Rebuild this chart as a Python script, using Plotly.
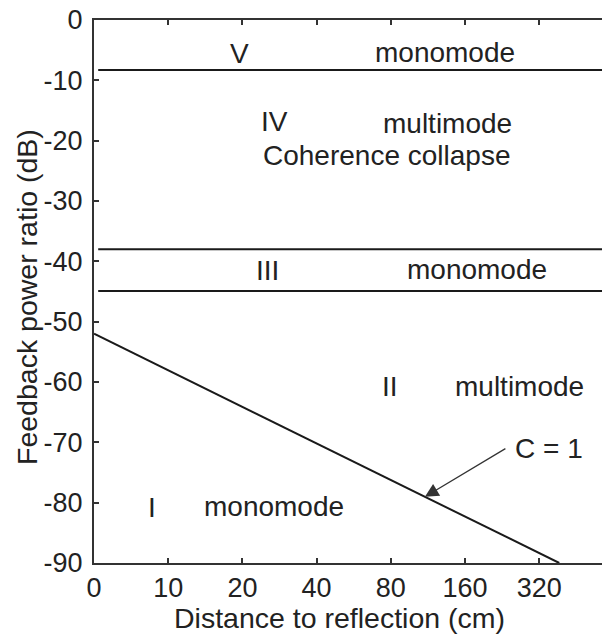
import plotly.graph_objects as go
import numpy as np

# ---- data ----
tick_vals = [5, 10, 20, 40, 80, 160, 320]
tick_text = ["0", "10", "20", "40", "80", "160", "320"]
y_ticks = [0, -10, -20, -30, -40, -50, -60, -70, -80, -90]
y_tick_text = ["0", "-10", "-20", "-30", "-40", "-50", "-60", "-70", "-80", "-90"]

boundary_levels = [-8.3, -38.0, -44.9]      # dB, regime boundaries
boundary_x = [5.2, 700]                     # cm, horizontal extent

c1_x = [5, 386]                             # C = 1 line (cm)
c1_y = [-52, -90]                           # dB

W, H = 602, 635
L, R, T, B = 94, 0, 20, 72
x_lo, x_hi = np.log10(5), np.log10(5 * 2 ** ((W - L) / 74.2))

font = "Liberation Sans, Arial, sans-serif"
tcol = "#222222"

fig = go.Figure()
for lv in boundary_levels:
    fig.add_trace(go.Scatter(x=boundary_x, y=[lv, lv], mode="lines",
                             line=dict(color="#1a1a1a", width=2), showlegend=False,
                             hoverinfo="skip"))
fig.add_trace(go.Scatter(x=c1_x, y=c1_y, mode="lines",
                         line=dict(color="#1a1a1a", width=2), showlegend=False,
                         hoverinfo="skip"))

pw, ph = W - L - R, H - T - B


def px(xp, yp):
    return (xp - L) / pw, (H - B - yp) / ph


labels = [
    ("V", 239, 54), ("monomode", 445, 53),
    ("IV", 274, 122), ("multimode", 447, 124), ("Coherence collapse", 387, 155),
    ("III", 267, 270), ("monomode", 477, 269),
    ("II", 390, 386), ("multimode", 519, 386),
    ("I", 152, 507), ("monomode", 274, 506),
    ("C = 1", 549, 448),
]
for txt, xp, yp in labels:
    xx, yy = px(xp, yp)
    fig.add_annotation(x=xx, y=yy, xref="paper", yref="paper", text=txt,
                       showarrow=False, xanchor="center", yanchor="middle",
                       font=dict(family=font, size=28, color=tcol))

# arrow pointing at the C = 1 line
xh = 110
frac = np.log(xh / c1_x[0]) / np.log(c1_x[1] / c1_x[0])
yh = c1_y[0] + frac * (c1_y[1] - c1_y[0])
fig.add_annotation(x=np.log10(xh), y=yh, xref="x", yref="y", text="",
                   showarrow=True, ax=82, ay=-49, axref="pixel", ayref="pixel",
                   arrowhead=2, arrowsize=2.1, arrowwidth=1.3, arrowcolor="#333333",
                   standoff=0)

# axis titles
xx, yy = px(339, 618)
fig.add_annotation(x=xx, y=yy, xref="paper", yref="paper",
                   text="Distance to reflection (cm)", showarrow=False,
                   xanchor="center", yanchor="middle",
                   font=dict(family=font, size=28.5, color=tcol))
xx, yy = px(27, 297)
fig.add_annotation(x=xx, y=yy, xref="paper", yref="paper",
                   text="Feedback power ratio (dB)", showarrow=False, textangle=-90,
                   xanchor="center", yanchor="middle",
                   font=dict(family=font, size=28.5, color=tcol))

fig.update_layout(
    width=W, height=H, margin=dict(l=L, r=R, t=T, b=B),
    plot_bgcolor="white", paper_bgcolor="white",
    xaxis=dict(type="log", range=[x_lo, x_hi], tickvals=tick_vals, ticktext=tick_text,
               ticks="inside", ticklen=5, tickwidth=1.5, tickcolor="#333333",
               showline=True, linecolor="#333333", linewidth=2, mirror="ticks",
               showgrid=False, zeroline=False, automargin=False,
               tickfont=dict(family=font, size=27, color=tcol)),
    yaxis=dict(range=[-90, 0], tickvals=y_ticks, ticktext=y_tick_text,
               ticks="inside", ticklen=5, tickwidth=1.5, tickcolor="#333333",
               showline=True, linecolor="#333333", linewidth=2, mirror=False,
               showgrid=False, zeroline=False, ticklabelstandoff=4, automargin=False,
               tickfont=dict(family=font, size=27, color=tcol)),
)

fig.write_html("out.html", config={"displayModeBar": False},
               post_script="document.body.style.margin='0';document.body.style.overflow='hidden';")
